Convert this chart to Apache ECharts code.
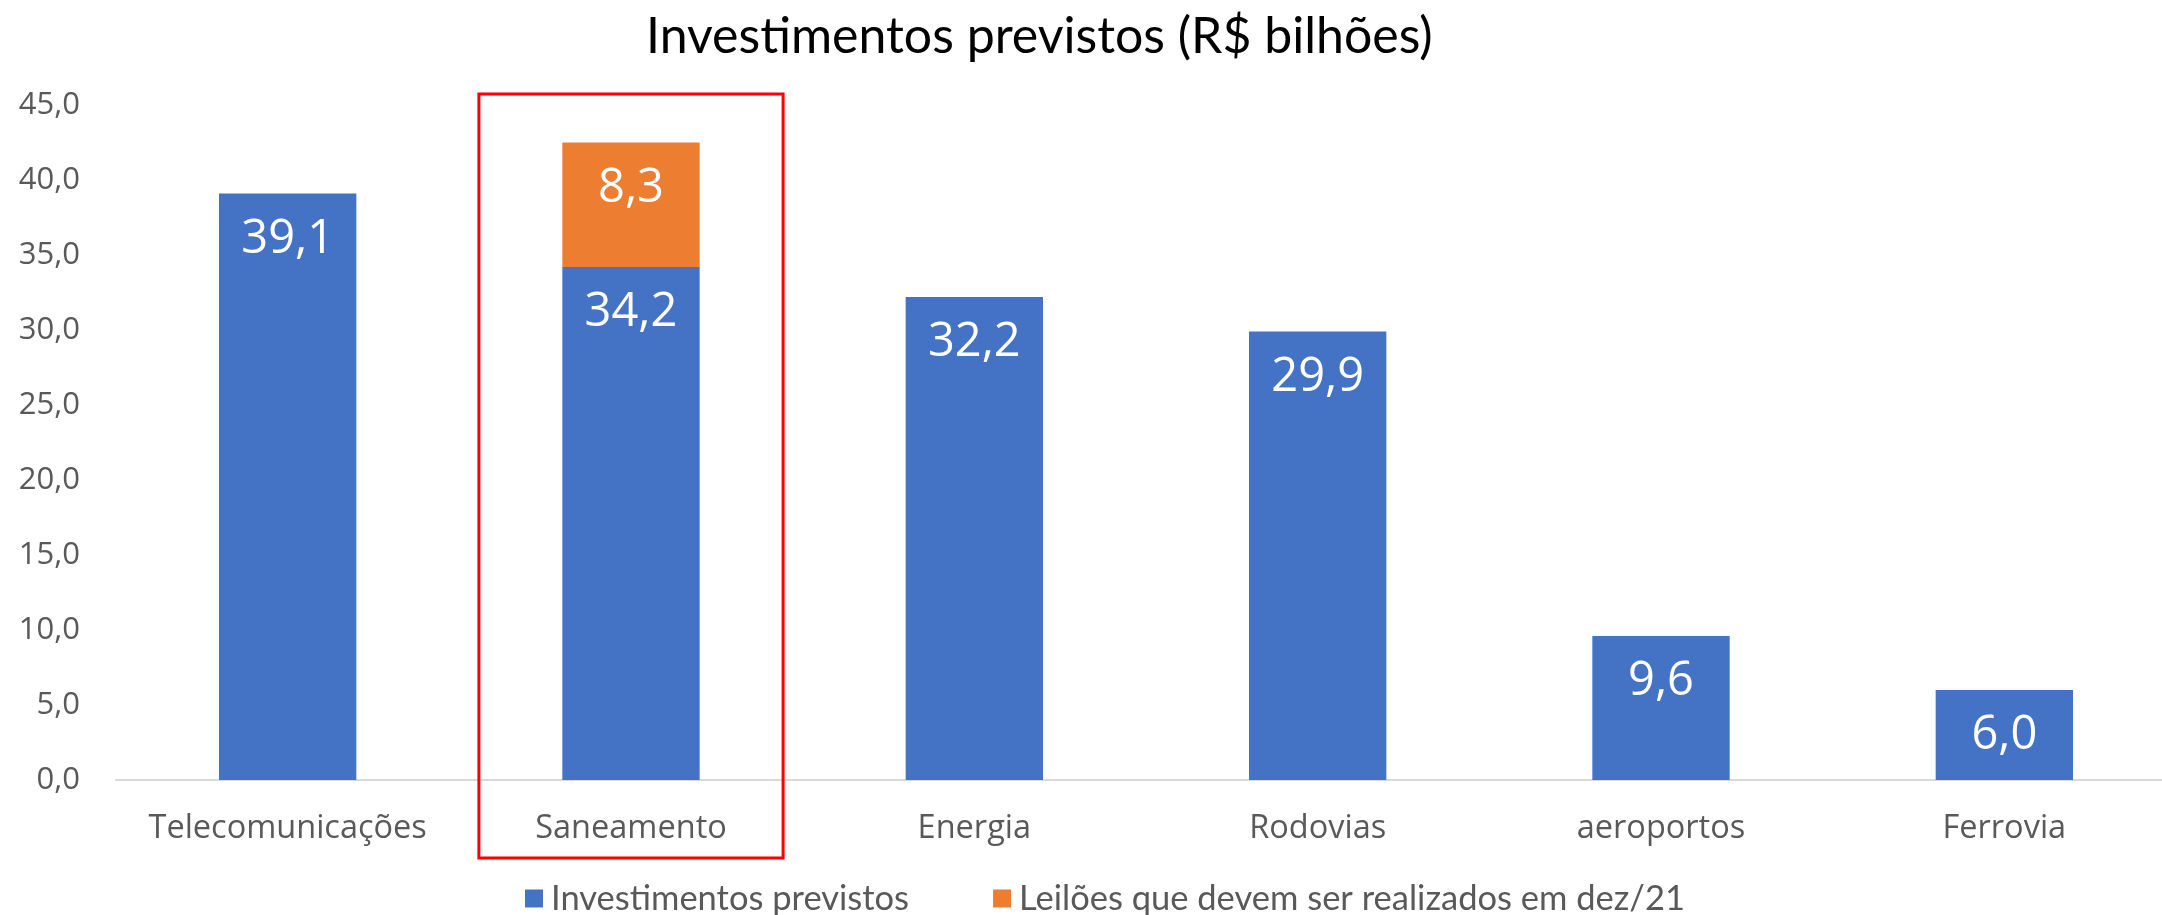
<!DOCTYPE html>
<html>
<head>
<meta charset="utf-8">
<script src="https://cdn.jsdelivr.net/npm/echarts@6/dist/echarts.min.js"></script>
<style>
html,body{margin:0;padding:0;background:#fff;}
#chart{width:2162px;height:915px;}
</style>
</head>
<body>
<div id="chart"></div>
<script>
const titleText = 'Investimentos previstos (R$ bilhões)';
const categories = ['Telecomunicações', 'Saneamento', 'Energia', 'Rodovias', 'aeroportos', 'Ferrovia'];
const seriesNames = ['Investimentos previstos', 'Leilões que devem ser realizados em dez/21'];
const investimentos = [39.1, 34.2, 32.2, 29.9, 9.6, 6.0];
const leiloes = [null, 8.3, null, null, null, null];
const yTicks = [0, 5, 10, 15, 20, 25, 30, 35, 40, 45];
const highlightCategory = 'Saneamento';

const fmt = v => Number(v).toFixed(1).replace('.', ',');

const chart = echarts.init(document.getElementById('chart'));
const labelStyle = {
  show: true,
  position: 'insideTop',
  distance: 22,
  color: '#ffffff',
  fontFamily: 'Open Sans',
  fontSize: 47,
  lineHeight: 48,
  formatter: p => fmt(p.value)
};
chart.setOption({
  animation: false,
  backgroundColor: '#ffffff',
  title: {
    text: titleText,
    left: 646,
    top: 12,
    padding: 0,
    textStyle: { fontFamily: 'Lato', fontSize: 50, fontWeight: 'normal', color: '#000000' }
  },
  legend: {
    left: 520,
    top: 876,
    itemWidth: 18,
    itemHeight: 18,
    itemGap: 84,
    icon: 'rect',
    textStyle: { fontFamily: 'Lato', fontSize: 34.5, color: '#595959', padding: [0, 0, 0, 3] },
    data: seriesNames
  },
  grid: { left: 116, right: -14, top: 105, bottom: 135, containLabel: false, outerBoundsMode: 'none' },
  xAxis: {
    type: 'category',
    data: categories,
    axisLine: { lineStyle: { color: '#D9D9D9', width: 2 } },
    axisTick: { show: false },
    axisLabel: { interval: 0, fontFamily: 'Open Sans', fontSize: 32.5, color: '#595959', margin: 31, lineHeight: 36 }
  },
  yAxis: {
    type: 'value',
    min: yTicks[0],
    max: yTicks[yTicks.length - 1],
    interval: yTicks[1] - yTicks[0],
    splitLine: { show: false },
    axisLine: { show: false },
    axisTick: { show: false },
    axisLabel: { fontFamily: 'Open Sans', fontSize: 31, color: '#595959', margin: 36, formatter: v => fmt(v) }
  },
  series: [
    {
      name: seriesNames[0], type: 'bar', stack: 'total', barWidth: '40%',
      itemStyle: { color: '#4472C4' }, label: labelStyle, data: investimentos
    },
    {
      name: seriesNames[1], type: 'bar', stack: 'total', barWidth: '40%',
      itemStyle: { color: '#ED7D31' }, label: labelStyle, data: leiloes
    }
  ]
});

// Red highlight box around the Saneamento category, positioned from the axes
const cx = chart.convertToPixel({ xAxisIndex: 0 }, highlightCategory);
const c0 = chart.convertToPixel({ xAxisIndex: 0 }, categories[0]);
const c1 = chart.convertToPixel({ xAxisIndex: 0 }, categories[1]);
const band = c1 - c0;
const yTop = chart.convertToPixel({ yAxisIndex: 0 }, yTicks[yTicks.length - 1]);
const yBase = chart.convertToPixel({ yAxisIndex: 0 }, 0);
const halfW = band * 0.443;
chart.setOption({
  graphic: [{
    type: 'rect',
    shape: { x: cx - halfW, y: yTop - 11, width: halfW * 2, height: (yBase + 78) - (yTop - 11) },
    style: { fill: 'none', stroke: '#FF0000', lineWidth: 3 },
    z: 10
  }]
});
</script>
</body>
</html>
